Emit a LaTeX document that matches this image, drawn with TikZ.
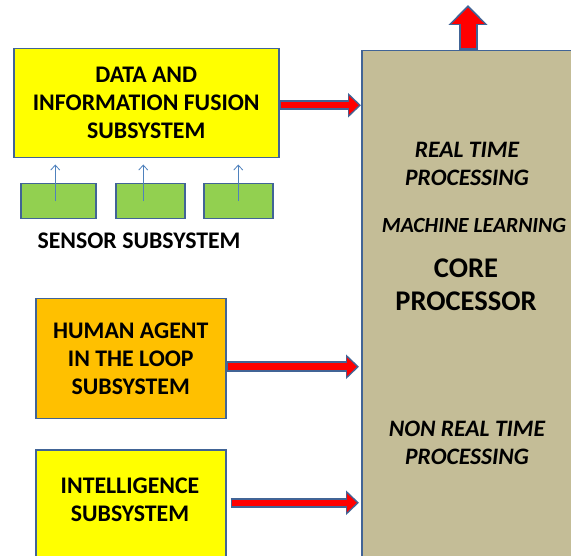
\documentclass[tikz,border=0pt]{standalone}
\usepackage{fontspec}
\setmainfont{Carlito}
\usetikzlibrary{positioning, arrows.meta}
\definecolor{edgeblue}{RGB}{65,100,150}
\definecolor{fuseyellow}{RGB}{255,255,0}
\definecolor{humanorange}{RGB}{255,192,0}
\definecolor{coretan}{RGB}{196,189,151}
\definecolor{sensorgreen}{RGB}{146,208,80}
\definecolor{thinblue}{RGB}{79,129,189}

\begin{document}
\begin{tikzpicture}[x=1pt, y=-1pt,
    subsys/.style={draw=edgeblue, line width=1.5pt, align=center, inner sep=0pt,
        font=\fontsize{23.8}{28}\selectfont\bfseries},
    boxtext/.style={align=center, inner sep=0pt, font=\fontsize{23.8}{28}\selectfont\bfseries},
    coretext/.style={align=center, inner sep=0pt, font=\fontsize{23.6}{28}\selectfont\bfseries\itshape},
    sensor/.style={draw=edgeblue, line width=1.5pt, fill=sensorgreen, minimum height=35pt, anchor=north west},
    feed/.style={draw=thinblue, line width=0.8pt, -{Straight Barb[length=5pt, width=9pt]}, shorten >=6pt},
    fat/.style={draw=edgeblue, line width=10.5pt, -{Triangle[length=13pt, width=24pt]},
        postaction={draw=red, line width=6.5pt, -{Triangle[length=10pt, width=18.5pt]}, shorten >=2.2pt, shorten <=1pt}},
    fatup/.style={draw=edgeblue, line width=19pt, -{Triangle[length=20pt, width=38pt]},
        postaction={draw=red, line width=15pt, -{Triangle[length=16.5pt, width=32pt]}, shorten >=2.5pt, shorten <=1.5pt}}
]
    \useasboundingbox (0,0) rectangle (571,556);
    \clip (0,0) rectangle (571,556);
    % Core processor
    \node[subsys, fill=coretan, minimum width=230pt, minimum height=530pt, anchor=north west] (core) at (361,50) {};
    \node[coretext] (rt) at (467,164) {REAL TIME\\PROCESSING};
    \node[coretext, font=\fontsize{21.6}{26}\selectfont\bfseries\itshape] (ml) at (474,225) {MACHINE LEARNING};
    \node[boxtext, font=\fontsize{28.5}{33}\selectfont\bfseries] (cp) at (466,285) {CORE\\PROCESSOR};
    \node[coretext] (nrt) at (467,443) {NON REAL TIME\\PROCESSING};
    % Subsystems on the left
    \node[subsys, fill=fuseyellow, minimum width=265pt, minimum height=109pt, anchor=north west] (fusion) at (13,48)
        {DATA AND\\INFORMATION FUSION\\SUBSYSTEM};
    \node[subsys, fill=humanorange, minimum width=190pt, minimum height=120pt, anchor=north west] (human) at (35,298)
        {HUMAN AGENT\\IN THE LOOP\\SUBSYSTEM};
    \node[subsys, fill=fuseyellow, minimum width=190pt, minimum height=130pt, anchor=north west] (intel) at (35,449) {};
    \node[boxtext] (inteltxt) at (130,500) {INTELLIGENCE\\SUBSYSTEM};
    % Sensors
    \node[sensor, minimum width=75pt] (s1) at (20,183) {};
    \node[sensor, minimum width=69pt] (s2) at (115,183) {};
    \node[sensor, minimum width=69pt] (s3) at (203,183) {};
    \node[boxtext] (senslabel) at (139,241) {SENSOR SUBSYSTEM};
    \foreach \s/\d in {s1/-3, s2/-7, s3/0} {
        \draw[feed] ([xshift=\d pt]\s.center) -- ([xshift=\d pt]\s.center |- fusion.south);
    }
    % Fat arrows into the core
    \coordinate (fa) at ([yshift=-2pt]fusion.east);
    \coordinate (ha) at ([yshift=-8pt]human.east);
    \coordinate (ia) at ([xshift=4pt, yshift=12pt]intel.east);
    \draw[fat] (fa) -- (fa -| core.west);
    \draw[fat] (ha) -- ([xshift=-2pt]ha -| core.west);
    \draw[fat] (ia) -- ([xshift=-2pt]ia -| core.west);
    % Output arrow
    \coordinate (out) at (468,5);
    \draw[fatup] (out |- core.north) -- (out);
\end{tikzpicture}
\end{document}
